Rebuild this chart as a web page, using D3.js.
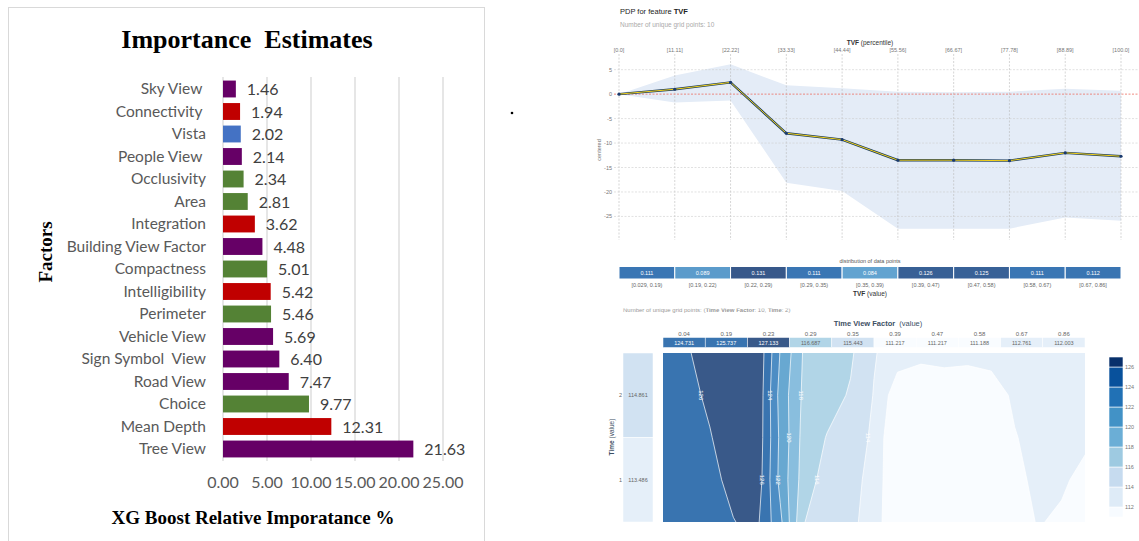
<!DOCTYPE html>
<html>
<head>
<meta charset="utf-8">
<script src="https://cdn.jsdelivr.net/npm/d3@7"></script>
<style>
body { margin: 0; background: #fff; }
svg text { white-space: pre; }
</style>
</head>
<body>
<div id="chart"></div>
<script>
// ---- XGBoost importance (left panel)
var factors = ["Sky View ", "Connectivity ", "Vista", "People View ", "Occlusivity", "Area", "Integration",
  "Building View Factor", "Compactness", "Intelligibility", "Perimeter", "Vehicle View",
  "Sign Symbol  View", "Road View", "Choice", "Mean Depth", "Tree View"];
var importance = [1.46, 1.94, 2.02, 2.14, 2.34, 2.81, 3.62, 4.48, 5.01, 5.42, 5.46, 5.69, 6.40, 7.47, 9.77, 12.31, 21.63];
var factorGroup = ["view", "syntax", "vista", "view", "form", "form", "syntax", "view", "form",
  "syntax", "form", "view", "view", "view", "form", "syntax", "view"];
var importanceTicks = [0, 5, 10, 15, 20, 25];

// ---- PDP for TVF (top right)
var pdpPercentiles = ["[0.0]", "[11.11]", "[22.22]", "[33.33]", "[44.44]", "[55.56]", "[66.67]", "[77.78]", "[88.89]", "[100.0]"];
var pdpMean = [0, 1.0, 2.4, -8.0, -9.3, -13.5, -13.5, -13.6, -12.0, -12.7];
var pdpUpper = [0, 3.8, 6.1, 1.8, 1.2, 0.5, 0.4, 0.5, 1.1, 0.7];
var pdpLower = [0, -1.7, -1.3, -18.1, -19.8, -27.5, -27.5, -27.5, -25.2, -25.9];
var pdpTicks = [5, 0, -5, -10, -15, -20, -25];
var distShares = [0.111, 0.089, 0.131, 0.111, 0.084, 0.126, 0.125, 0.111, 0.112];
var distBins = ["[0.029, 0.19)", "[0.19, 0.22)", "[0.22, 0.29)", "[0.29, 0.35)", "[0.35, 0.39)",
  "[0.39, 0.47)", "[0.47, 0.58)", "[0.58, 0.67)", "[0.67, 0.86]"];

// ---- interaction TVF x Time (bottom right)
var tvfGrid = ["0.04", "0.19", "0.23", "0.29", "0.35", "0.39", "0.47", "0.58", "0.67", "0.86"];
var tvfPdp = [124.731, 125.737, 127.133, 116.687, 115.443, 111.217, 111.217, 111.188, 112.761, 112.003];
var timeGrid = ["2", "1"];
var timePdp = [114.861, 113.486];
var contourLevels = [112, 114, 116, 118, 120, 122, 124, 126];
// surface, top row = Time 2, bottom row = Time 1
var surface = [
  [125.0, 125.8, 126.8, 127.4, 127.8, 121.9, 117.8, 117.0, 116.3, 114.15, 113.0, 112.5, 112.7, 112.55, 112.6, 112.7, 112.9, 113.1, 113.3],
  [125.0, 125.5, 126.3, 127.2, 127.7, 121.3, 117.6, 116.8, 115.8, 113.9, 110.8, 110.6, 110.7, 110.7, 111.2, 112.3, 112.8, 113.0, 113.1],
  [124.9, 125.4, 125.9, 126.9, 127.5, 121.6, 117.3, 115.9, 114.6, 113.8, 109.5, 109.8, 110.0, 110.2, 110.6, 111.9, 112.6, 112.9, 112.6],
  [124.8, 125.2, 125.6, 126.4, 127.3, 121.4, 117.1, 115.1, 114.5, 113.5, 109.6, 109.5, 109.6, 109.8, 110.2, 110.9, 113.0, 112.47, 111.15],
  [124.7, 125.0, 125.5, 125.95, 126.4, 122.5, 116.05, 115.2, 114.4, 113.2, 109.7, 109.4, 109.4, 109.6, 110.0, 110.6, 112.2, 111.5, 110.8]
];
// [level, row, which crossing in that row]
var contourLabels = [[126, 1, 0], [126, 3, 1], [124, 1, 0], [122, 3, 0], [120, 2, 0], [118, 1, 0], [116, 3, 0], [114, 2, 0]];

var svg = d3.select("#chart").append("svg")
    .attr("width", 1139)
    .attr("height", 541)
    .style("font-family", "'Liberation Sans', Arial, sans-serif");

// ================= left: bar chart =================
var groupColor = {view: "#660066", syntax: "#c00000", vista: "#4472c4", form: "#548235"};
var left = svg.append("g");

left.append("rect")
    .attr("x", 8.5).attr("y", 7.5)
    .attr("width", 476).attr("height", 540)
    .attr("fill", "none").attr("stroke", "#d9d9d9");

var x = d3.scaleLinear().domain([0, 25]).range([223, 443]);
var y = d3.scaleBand().domain(factors).range([77.75, 460.25]).paddingInner(0.25).paddingOuter(0.125);

left.selectAll(".grid").data(importanceTicks).enter().append("line")
    .attr("x1", d => x(d)).attr("x2", d => x(d))
    .attr("y1", 77).attr("y2", 461)
    .attr("stroke", "#d9d9d9").attr("stroke-width", 1.3);

left.selectAll(".bar").data(factors).enter().append("rect")
    .attr("x", x(0))
    .attr("y", d => y(d))
    .attr("width", (d, i) => x(importance[i]) - x(0))
    .attr("height", y.bandwidth())
    .attr("fill", (d, i) => groupColor[factorGroup[i]]);

left.selectAll(".cat").data(factors).enter().append("text")
    .attr("x", 206)
    .attr("y", d => y(d) + y.bandwidth() / 2 + 5)
    .attr("text-anchor", "end")
    .style("font-family", "Lato, 'Open Sans', sans-serif")
    .style("font-size", "15.5px")
    .attr("fill", "#595959")
    .text(d => d);

left.selectAll(".val").data(factors).enter().append("text")
    .attr("x", (d, i) => x(importance[i]) + 11)
    .attr("y", d => y(d) + y.bandwidth() / 2 + 6)
    .style("font-family", "Lato, 'Open Sans', sans-serif")
    .style("font-size", "16px")
    .attr("fill", "#404040")
    .text((d, i) => importance[i].toFixed(2));

left.selectAll(".tick").data(importanceTicks).enter().append("text")
    .attr("x", d => x(d))
    .attr("y", 488)
    .attr("text-anchor", "middle")
    .style("font-family", "Lato, 'Open Sans', sans-serif")
    .style("font-size", "16px")
    .attr("fill", "#595959")
    .text(d => d.toFixed(2));

left.append("text")
    .attr("x", 247).attr("y", 48)
    .attr("text-anchor", "middle")
    .style("font-family", "'Liberation Serif', 'Times New Roman', serif")
    .style("font-weight", "bold").style("font-size", "26px")
    .text("Importance  Estimates");

left.append("text")
    .attr("x", 253).attr("y", 524)
    .attr("text-anchor", "middle")
    .style("font-family", "'Liberation Serif', 'Times New Roman', serif")
    .style("font-weight", "bold").style("font-size", "19px")
    .text("XG Boost Relative Imporatance %");

left.append("text")
    .attr("transform", "translate(52,252) rotate(-90)")
    .attr("text-anchor", "middle")
    .style("font-family", "'Liberation Serif', 'Times New Roman', serif")
    .style("font-weight", "bold").style("font-size", "19px")
    .text("Factors");

svg.append("circle").attr("cx", 512).attr("cy", 113).attr("r", 1.3).attr("fill", "#000");

// ================= top right: PDP =================
var pdp = svg.append("g");
var px = d3.scaleLinear().domain([0, pdpPercentiles.length - 1]).range([619, 1121]);
var py = d3.scaleLinear().domain([-29, 8]).range([236, 55]);

var t1 = pdp.append("text").attr("x", 620).attr("y", 14).style("font-size", "7.5px").attr("fill", "#222");
t1.append("tspan").text("PDP for feature ");
t1.append("tspan").style("font-weight", "bold").text("TVF");
pdp.append("text").attr("x", 620).attr("y", 26.5).style("font-size", "6.5px").attr("fill", "#aaa")
    .text("Number of unique grid points: 10");

var t2 = pdp.append("text").attr("x", 870).attr("y", 44.5).attr("text-anchor", "middle")
    .style("font-size", "6.5px").attr("fill", "#333");
t2.append("tspan").style("font-weight", "bold").text("TVF");
t2.append("tspan").text(" (percentile)");

pdp.selectAll(".pl").data(pdpPercentiles).enter().append("text")
    .attr("x", (d, i) => px(i)).attr("y", 52)
    .attr("text-anchor", "middle")
    .style("font-size", "5.5px").attr("fill", "#777")
    .text(d => d);

// band
var area = d3.area()
    .x((d, i) => px(i))
    .y0((d, i) => py(pdpLower[i]))
    .y1((d, i) => py(pdpUpper[i]));
pdp.append("path").datum(pdpMean).attr("d", area).attr("fill", "#e4ecf7");

// grid
pdp.selectAll(".vg").data(pdpPercentiles).enter().append("line")
    .attr("x1", (d, i) => px(i)).attr("x2", (d, i) => px(i))
    .attr("y1", 54).attr("y2", 240)
    .attr("stroke", "#bbb").attr("stroke-width", 0.6).attr("stroke-dasharray", "2,1.5");
pdp.selectAll(".hg").data(pdpTicks.filter(d => d !== 0)).enter().append("line")
    .attr("x1", 614).attr("x2", 1139)
    .attr("y1", d => py(d)).attr("y2", d => py(d))
    .attr("stroke", "#ccc").attr("stroke-width", 0.6).attr("stroke-dasharray", "2,1.5");
pdp.append("line")
    .attr("x1", 614).attr("x2", 1139).attr("y1", py(0)).attr("y2", py(0))
    .attr("stroke", "#ec7063").attr("stroke-width", 0.8).attr("stroke-dasharray", "2,1.5");

pdp.selectAll(".yt").data(pdpTicks).enter().append("text")
    .attr("x", 612).attr("y", d => py(d) + 2)
    .attr("text-anchor", "end")
    .style("font-size", "5.5px").attr("fill", "#777")
    .text(d => d);
pdp.append("text")
    .attr("transform", "translate(601,150) rotate(-90)")
    .attr("text-anchor", "middle")
    .style("font-size", "5.5px").attr("fill", "#777")
    .text("centered");

var line = d3.line().x((d, i) => px(i)).y(d => py(d));
pdp.append("path").datum(pdpMean).attr("d", line)
    .attr("fill", "none").attr("stroke", "#1a3c5e").attr("stroke-width", 2.4);
pdp.append("path").datum(pdpMean).attr("d", line)
    .attr("fill", "none").attr("stroke", "#f4d21c").attr("stroke-width", 1);
pdp.selectAll(".pt").data(pdpMean).enter().append("circle")
    .attr("cx", (d, i) => px(i)).attr("cy", d => py(d)).attr("r", 1.6)
    .attr("fill", "#1a3a6e");

// distribution of data points
pdp.append("text").attr("x", 870).attr("y", 262.5).attr("text-anchor", "middle")
    .style("font-size", "5.5px").attr("fill", "#555").text("distribution of data points");

var distColor = d3.scaleLinear().domain([0.084, 0.111, 0.131]).range(["#62a3d0", "#3a76b4", "#37588a"]);
pdp.selectAll(".dc").data(distShares).enter().append("rect")
    .attr("x", (d, i) => px(i)).attr("y", 266.5)
    .attr("width", px(1) - px(0)).attr("height", 12.5)
    .attr("fill", d => distColor(d)).attr("stroke", "#fff").attr("stroke-width", 1);
pdp.selectAll(".dt").data(distShares).enter().append("text")
    .attr("x", (d, i) => (px(i) + px(i + 1)) / 2).attr("y", 275)
    .attr("text-anchor", "middle")
    .style("font-size", "5.5px").attr("fill", "#fff")
    .text(d => d.toFixed(3));
pdp.selectAll(".db").data(distBins).enter().append("text")
    .attr("x", (d, i) => (px(i) + px(i + 1)) / 2).attr("y", 287)
    .attr("text-anchor", "middle")
    .style("font-size", "5.5px").attr("fill", "#666")
    .text(d => d);
var t3 = pdp.append("text").attr("x", 870).attr("y", 296).attr("text-anchor", "middle")
    .style("font-size", "6.5px").attr("fill", "#333");
t3.append("tspan").style("font-weight", "bold").text("TVF");
t3.append("tspan").text(" (value)");

// ================= bottom right: interaction contour =================
var inter = svg.append("g");

svg.append("defs").append("clipPath").attr("id", "cutTop")
    .append("rect").attr("x", 600).attr("y", 308.5).attr("width", 400).attr("height", 10);
var t4 = inter.append("text").attr("x", 623).attr("y", 311.5)
    .attr("clip-path", "url(#cutTop)")
    .style("font-size", "6px").attr("fill", "#999");
t4.append("tspan").text("Number of unique grid points: (");
t4.append("tspan").style("font-weight", "bold").text("Time View Factor");
t4.append("tspan").text(": 10, ");
t4.append("tspan").style("font-weight", "bold").text("Time");
t4.append("tspan").text(": 2)");

var t5 = inter.append("text").attr("x", 878).attr("y", 325.5).attr("text-anchor", "middle")
    .style("font-size", "7.5px").attr("fill", "#3d4f63");
t5.append("tspan").style("font-weight", "bold").text("Time View Factor");
t5.append("tspan").text("  (value)");

var blues = d3.schemeBlues[9];
var level = d3.scaleThreshold().domain(contourLevels).range(blues);
var fade = c => d3.interpolateRgb("#ffffff", c)(0.8);

var tx = d3.scaleBand().domain(tvfGrid).range([663, 1085]);
inter.selectAll(".gl").data(tvfGrid).enter().append("text")
    .attr("x", d => tx(d) + tx.bandwidth() / 2).attr("y", 335.5)
    .attr("text-anchor", "middle")
    .style("font-size", "6px").attr("fill", "#666")
    .text(d => d);
inter.selectAll(".tc").data(tvfGrid).enter().append("rect")
    .attr("x", d => tx(d)).attr("y", 337.5)
    .attr("width", tx.bandwidth()).attr("height", 10)
    .attr("fill", (d, i) => fade(level(tvfPdp[i]))).attr("stroke", "#fff").attr("stroke-width", 0.5);
inter.selectAll(".tt").data(tvfGrid).enter().append("text")
    .attr("x", d => tx(d) + tx.bandwidth() / 2).attr("y", 344.7)
    .attr("text-anchor", "middle")
    .style("font-size", "5.5px")
    .attr("fill", (d, i) => tvfPdp[i] > 118 ? "#fff" : "#666")
    .text((d, i) => tvfPdp[i].toFixed(3));

var ty = d3.scaleBand().domain(timeGrid).range([353, 522]);
inter.selectAll(".lc").data(timeGrid).enter().append("rect")
    .attr("x", 623).attr("y", d => ty(d))
    .attr("width", 30).attr("height", ty.bandwidth())
    .attr("fill", (d, i) => fade(level(timePdp[i]))).attr("stroke", "#fff").attr("stroke-width", 0.5);
inter.selectAll(".lk").data(timeGrid).enter().append("text")
    .attr("x", 622).attr("y", d => ty(d) + ty.bandwidth() / 2 + 2)
    .attr("text-anchor", "end")
    .style("font-size", "5.5px").attr("fill", "#666")
    .text(d => d);
inter.selectAll(".lv").data(timeGrid).enter().append("text")
    .attr("x", 638).attr("y", d => ty(d) + ty.bandwidth() / 2 + 2)
    .attr("text-anchor", "middle")
    .style("font-size", "5.5px").attr("fill", "#666")
    .text((d, i) => timePdp[i].toFixed(3));
var t6 = inter.append("text")
    .attr("transform", "translate(614,437) rotate(-90)")
    .attr("text-anchor", "middle")
    .style("font-size", "6.5px").attr("fill", "#3d4f63");
t6.append("tspan").style("font-weight", "bold").text("Time");
t6.append("tspan").text(" (value)");

// contour surface
var nx = surface[0].length, ny = surface.length;
var cx = d3.scaleLinear().domain([0.5, nx - 0.5]).range([663, 1085]);
var cy = d3.scaleLinear().domain([0.5, ny - 0.5]).range([353, 522]);
var contours = d3.contours().size([nx, ny]).thresholds(contourLevels)(surface.flat());
var proj = d3.geoTransform({point: function(a, b) { this.stream.point(cx(a), cy(b)); }});
var cpath = d3.geoPath(proj);

svg.select("defs").append("clipPath").attr("id", "plotArea")
    .append("rect").attr("x", 663).attr("y", 353).attr("width", 422).attr("height", 169);

var cg = inter.append("g").attr("clip-path", "url(#plotArea)");
cg.append("rect").attr("x", 663).attr("y", 353).attr("width", 422).attr("height", 169)
    .attr("fill", fade(blues[0]));
cg.selectAll(".ct").data(contours).enter().append("path")
    .attr("d", cpath)
    .attr("fill", d => fade(level(d.value)))
    .attr("stroke", "#fff").attr("stroke-width", 0.7);

function crossing(row, lv, nth) {
  var vals = surface[row], found = [];
  for (var i = 0; i < vals.length - 1; i++) {
    if ((vals[i] - lv) * (vals[i + 1] - lv) < 0)
      found.push(i + (vals[i] - lv) / (vals[i] - vals[i + 1]));
  }
  return found[nth];
}
cg.selectAll(".cl").data(contourLabels).enter().append("text")
    .attr("transform", d => "translate(" + (cx(crossing(d[1], d[0], d[2]) + 0.5) - 2) + "," + cy(d[1] + 0.5) + ") rotate(90)")
    .attr("text-anchor", "middle")
    .style("font-size", "6px").attr("fill", "#fff")
    .text(d => d[0]);

// colour bar
var cb = d3.scaleLinear().domain([111, 127]).range([517, 357]);
var steps = blues.map((c, k) => [k === 0 ? 111 : contourLevels[k - 1], k === blues.length - 1 ? 127 : contourLevels[k]]);
inter.selectAll(".cb").data(steps).enter().append("rect")
    .attr("x", 1109).attr("y", d => cb(d[1]))
    .attr("width", 14).attr("height", d => cb(d[0]) - cb(d[1]))
    .attr("fill", (d, k) => blues[k]).attr("stroke", "#fff").attr("stroke-width", 0.6);
inter.selectAll(".cbl").data(contourLevels).enter().append("text")
    .attr("x", 1125).attr("y", d => cb(d) + 2)
    .style("font-size", "5.5px").attr("fill", "#777")
    .text(d => d);
</script>
</body>
</html>
